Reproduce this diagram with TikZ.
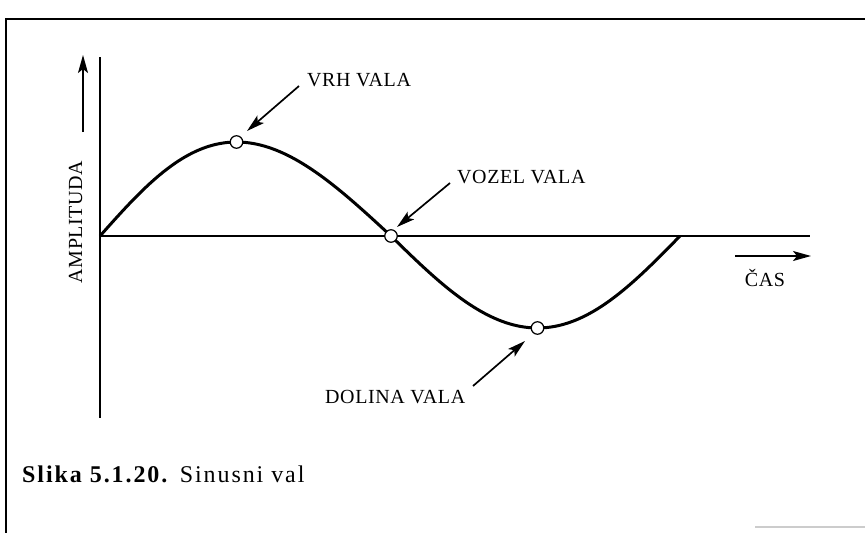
\documentclass[tikz,border=0pt]{standalone}
\usepackage{fontspec}
\setmainfont{Liberation Serif}
\newfontfamily\lblfont[LetterSpace=3]{Liberation Serif}
\newfontfamily\capfont[LetterSpace=8]{Liberation Serif}
\usetikzlibrary{arrows.meta}
\begin{document}
\begin{tikzpicture}[x=1pt,y=-1pt,
  frameline/.style={line width=1.8pt},
  axisline/.style={line width=2.4pt},
  wave/.style={line width=3pt},
  dot/.style={circle,draw,fill=white,line width=1.2pt,minimum size=12.5pt,inner sep=0pt},
  lbl/.style={font=\lblfont\fontsize{20}{24}\selectfont,inner sep=0pt,anchor=base west},
  pointer/.style={line width=1.7pt,-{Stealth[length=18pt,width=10pt,inset=4pt]}}
]
\useasboundingbox (0,0) rectangle (865,533);
% frame
\coordinate (ftr) at (865,19);
\coordinate (ftl) at (6,19);
\coordinate (fbl) at (6,533);
\draw[frameline] (ftr) -- (ftl) -- (fbl);
\coordinate (gs) at (755,527);
\coordinate (ge) at (865,527);
\draw[gray!40,line width=1.5pt] (gs) -- (ge);
% axes
\coordinate (o) at (100,236);
\coordinate (ytop) at (100,57);
\coordinate (ybot) at (100,418);
\coordinate (xend) at (810,236);
\draw[axisline] (ytop) -- (ybot);
\draw[axisline] (o) -- (xend);
% wave
\draw[wave] plot[domain=0:180,samples=80,variable=\t] ({100+1.6167*\t-9*sin(\t)},{236-94*sin(\t)});
\draw[wave] plot[domain=180:360,samples=80,variable=\t] ({391+1.6056*(\t-180)+2*sin(\t-180)},{236-92*sin(\t)});
% points
\node[dot] (peak) at (236.5,142) {};
\node[dot] (node0) at (391,236) {};
\node[dot] (trough) at (537.5,328) {};
% labels
\node[lbl] (lvrh) at (307,86) {VRH VALA};
\node[lbl] (lvozel) at (457,183) {VOZEL VALA};
\node[lbl] (ldolina) at (325,403) {DOLINA VALA};
\coordinate (avrh) at (299,86);
\coordinate (avrhe) at (247,131);
\coordinate (avoz) at (450,183);
\coordinate (avoze) at (397,227);
\coordinate (adol) at (473,386);
\coordinate (adole) at (525,341);
\draw[pointer] (avrh) -- (avrhe);
\draw[pointer] (avoz) -- (avoze);
\draw[pointer] (adol) -- (adole);
% axis titles
\node[font=\lblfont\fontsize{20}{24}\selectfont,rotate=90,inner sep=0pt,anchor=base] (lamp) at (82,222) {AMPLITUDA};
\coordinate (aamp) at (83,132);
\coordinate (aampe) at (83,55);
\draw[pointer] (aamp) -- (aampe);
\node[font=\lblfont\fontsize{20}{24}\selectfont,inner sep=0pt,anchor=base] (lcas) at (765,286) {ČAS};
\coordinate (acas) at (735,256);
\coordinate (acase) at (811,256);
\draw[pointer] (acas) -- (acase);
% caption
\node[font=\capfont\fontsize{24}{28}\selectfont,inner sep=0pt,anchor=base west] (cap) at (22,482) {\textbf{Slika 5.1.20.} Sinusni val};
\end{tikzpicture}
\end{document}
